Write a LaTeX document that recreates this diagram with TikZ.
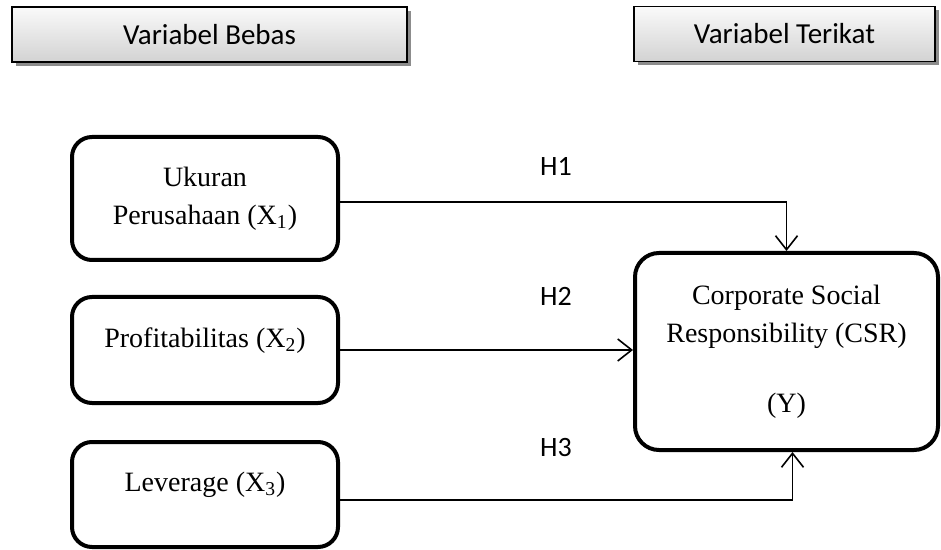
\documentclass[tikz,border=0pt]{standalone}
\usepackage{fontspec}
\setmainfont{Liberation Serif}
\newfontfamily\calibri{Carlito}
\usetikzlibrary{arrows.meta,shadows}

\begin{document}
\begin{tikzpicture}
  [x=0.5pt,y=-0.5pt,
   head/.style={draw,line width=0.8pt,top color=gray!4,bottom color=gray!35,
     drop shadow={shadow xshift=2pt,shadow yshift=-2pt,fill=black,opacity=0.45},
     minimum height=27.5pt,font=\calibri\fontsize{14.5}{17}\selectfont},
   var/.style={draw,line width=2pt,rounded corners=10pt,align=center,
     minimum width=133pt,font=\fontsize{14}{19}\selectfont},
   hyp/.style={font=\calibri\fontsize{14}{17}\selectfont},
   arr/.style={line width=0.8pt,-{Straight Barb[length=7pt,width=11pt]}}]
  \useasboundingbox (0,0) rectangle (941,550);

  % header
  \node[head,minimum width=197.5pt] (bebas) at (209.5,34.5) {Variabel Bebas};
  \node[head,minimum width=150.5pt] (terikat) at (784.5,34) {Variabel Terikat};

  % variables
  \node[var,minimum height=61.5pt] (x1) at (205,198.5) {Ukuran\\Perusahaan (X\textsubscript{1})};
  \node[var,minimum height=53pt,text height=10pt,text depth=13pt] (x2) at (205,350) {Profitabilitas (X\textsubscript{2})};
  \node[var,minimum height=52.5pt,text height=10pt,text depth=13pt] (x3) at (205,494.5) {Leverage (X\textsubscript{3})};
  \node[var,minimum width=151.5pt,minimum height=98.5pt,rounded corners=12pt] (csr) at (786.5,351.5)
    {Corporate Social\\Responsibility (CSR)\\[16pt](Y)};

  \node[hyp] (h1) at (556,166) {H1};
  \node[hyp] (h2) at (556,296) {H2};
  \node[hyp] (h3) at (556,448) {H3};

  \draw[arr] ([yshift=-1.75pt]x1.east) -| (csr.north);
  \draw[arr] (x2.east) -- (x2.east -| csr.west);
  \draw[arr] ([yshift=-2.75pt]x3.east) -| ([xshift=3pt]csr.south);

\end{tikzpicture}
\end{document}
